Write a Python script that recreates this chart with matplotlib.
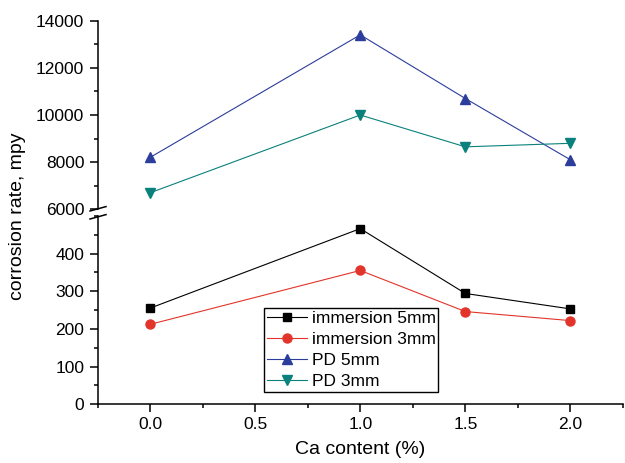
import matplotlib
matplotlib.use('Agg')
import matplotlib.pyplot as plt
from matplotlib.lines import Line2D
from matplotlib.ticker import MultipleLocator

plt.rcParams['font.family'] = ['Liberation Sans', 'DejaVu Sans']

# Datos
contenido_ca = [0.0, 1.0, 1.5, 2.0]
inmersion_5mm = [255, 466, 294, 253]
inmersion_3mm = [212, 355, 246, 222]
pd_5mm = [8200, 13400, 10700, 8100]
pd_3mm = [6700, 10000, 8650, 8800]
etiquetas = ['immersion 5mm', 'immersion 3mm', 'PD 5mm', 'PD 3mm']

rojo = '#e2342a'
azul = '#2c3d9c'
verde = '#0a817c'

fig = plt.figure(figsize=(6.25, 4.63), dpi=100)
# Eje superior (PD) y eje inferior (inmersión), con corte entre ellos
ax_sup = fig.add_axes([0.156, 0.5479, 0.8408, 0.4074])
ax_inf = fig.add_axes([0.156, 0.1268, 0.8408, 0.4071])

l1, = ax_inf.plot(contenido_ca, inmersion_5mm, '-s', color='black', lw=0.8, ms=6, label=etiquetas[0])
l2, = ax_inf.plot(contenido_ca, inmersion_3mm, '-o', color=rojo, lw=0.8, ms=6.5, label=etiquetas[1])
l3, = ax_sup.plot(contenido_ca, pd_5mm, '-^', color=azul, lw=0.8, ms=7.5, label=etiquetas[2])
l4, = ax_sup.plot(contenido_ca, pd_3mm, '-v', color=verde, lw=0.8, ms=7.5, label=etiquetas[3])

for ax in (ax_sup, ax_inf):
    ax.set_xlim(-0.25, 2.25)
    ax.spines['top'].set_visible(False)
    ax.spines['right'].set_visible(False)
    ax.spines['left'].set_linewidth(1.1)
    ax.spines['bottom'].set_linewidth(1.1)
    ax.tick_params(which='major', direction='out', length=6, width=1.1, labelsize=12.5)
    ax.tick_params(which='minor', direction='out', length=3, width=1.1)
    ax.patch.set_alpha(0)

ax_sup.set_ylim(6000, 14000)
ax_sup.yaxis.set_major_locator(MultipleLocator(2000))
ax_sup.yaxis.set_minor_locator(MultipleLocator(1000))
ax_sup.spines['bottom'].set_visible(False)
ax_sup.tick_params(axis='x', which='both', bottom=False, labelbottom=False)

ax_inf.set_ylim(0, 500)
ax_inf.set_yticks([0, 100, 200, 300, 400])
ax_inf.yaxis.set_minor_locator(MultipleLocator(50))
ax_inf.xaxis.set_minor_locator(MultipleLocator(0.25))
ax_inf.set_xticks([0.0, 0.5, 1.0, 1.5, 2.0])
ax_inf.set_xticklabels(['0.0', '0.5', '1.0', '1.5', '2.0'])
ax_inf.set_xlabel('Ca content (%)', fontsize=14, labelpad=6)

# Marcas del corte del eje
for y0 in (0.5443, 0.527):
    fig.add_artist(Line2D([0.144, 0.1696], [y0, y0 + 0.0095], color='black', lw=1.1))

fig.text(0.028, 0.5335, 'corrosion rate, mpy', rotation=90, ha='center', va='center', fontsize=14)

leyenda = ax_inf.legend([l1, l2, l3, l4], etiquetas, loc='center',
                        bbox_to_anchor=(0.562, 0.244), bbox_transform=fig.transFigure,
                        fontsize=12.5, frameon=True, fancybox=False, framealpha=1,
                        edgecolor='black', borderpad=0.15, labelspacing=0.34,
                        handlelength=2.3, handletextpad=0.3, borderaxespad=0)
leyenda.get_frame().set_linewidth(1.0)

fig.savefig('out.png', dpi=100)
